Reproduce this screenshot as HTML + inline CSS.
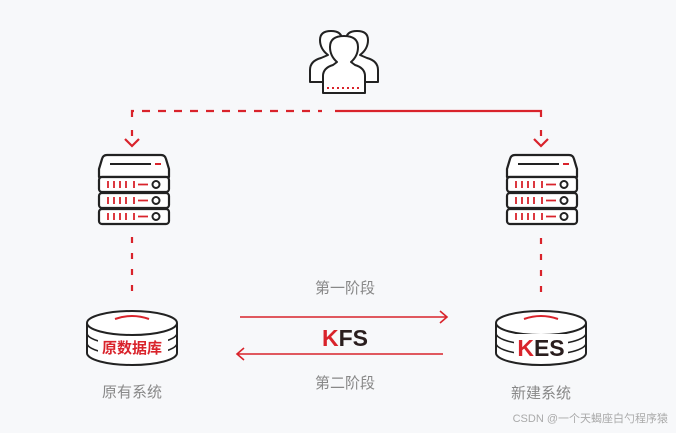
<!DOCTYPE html>
<html><head><meta charset="utf-8"><style>
html,body{margin:0;padding:0;background:#f7f8fa;}
svg{display:block}
text{font-family:"Liberation Sans","Noto Sans CJK SC",sans-serif;}
</style></head><body>
<svg width="676" height="433" viewBox="0 0 676 433" xmlns="http://www.w3.org/2000/svg">
<rect width="676" height="433" fill="#f7f8fa"/>
<defs>
<g id="srv">
 <path d="M8,0 H62 Q66,0 67,4 L70,14 V22 H0 V14 L3,4 Q4,0 8,0Z" fill="#fff" stroke="#222" stroke-width="2.2" stroke-linejoin="round"/>
 <line x1="11" y1="9" x2="52" y2="9" stroke="#222" stroke-width="2"/>
 <line x1="56" y1="9" x2="62" y2="9" stroke="#d9232b" stroke-width="2"/>
 <g fill="#fff" stroke="#222" stroke-width="2.2">
  <rect x="0" y="22" width="70" height="15" rx="3"/>
  <rect x="0" y="38" width="70" height="15" rx="3"/>
  <rect x="0" y="54" width="70" height="15" rx="3"/>
 </g>
 <g stroke="#d9232b" stroke-width="1.8">
  <path d="M9,26v7M15,26v7M21,26v7M27,26v7M35,26v7M39,29.5h10"/>
  <path d="M9,42v7M15,42v7M21,42v7M27,42v7M35,42v7M39,45.5h10"/>
  <path d="M9,58v7M15,58v7M21,58v7M27,58v7M35,58v7M39,61.5h10"/>
 </g>
 <g fill="none" stroke="#222" stroke-width="2">
  <circle cx="57" cy="29.5" r="3.5"/><circle cx="57" cy="45.5" r="3.5"/><circle cx="57" cy="61.5" r="3.5"/>
 </g>
</g>
<g id="db">
 <path d="M0,12 V42 A45,12 0 0 0 90,42 V12" fill="#fff" stroke="#222" stroke-width="2"/>
 <ellipse cx="45" cy="12" rx="45" ry="12" fill="#fff" stroke="#222" stroke-width="2"/>
 <path d="M0,22 A45,12 0 0 0 90,22 M0,32 A45,12 0 0 0 90,32" fill="none" stroke="#222" stroke-width="1.6"/>
 <path d="M28,8 Q45,2 62,8" fill="none" stroke="#d9232b" stroke-width="2"/>
</g>
</defs>

<!-- users icon -->
<g fill="#fff" stroke="#222" stroke-width="2" stroke-linejoin="round">
 <path d="M310,82 V70 Q310,61 321,58 L328,55 Q320,49 320,40 Q320,31 331,31 Q342,31 342,40 V82Z"/>
 <path d="M378,82 V70 Q378,61 367,58 L360,55 Q368,49 368,40 Q368,31 357,31 Q346,31 346,40 V82Z"/>
 <path d="M323,93 V76 Q323,68 333,65 L337,62 Q330,56 330,47 Q330,36 344,36 Q358,36 358,47 Q358,56 351,62 L355,65 Q365,68 365,76 V93Z"/>
</g>
<path d="M327,88h2M332,88h2M337,88h2M342,88h2M347,88h2M352,88h2M357,88h2" stroke="#d9232b" stroke-width="2"/>

<!-- top connectors -->
<g stroke="#d9232b" stroke-width="2.2" fill="none">
 <path d="M132,117 V111 H322" stroke-dasharray="8 8"/>
 <path d="M335,111 H541 V117"/>
 <path d="M132,130 V136 M125,139 L132,146 L139,139"/>
 <path d="M541,130 V136 M534,139 L541,146 L548,139"/>
 <path d="M132,237 V295" stroke-dasharray="6 10"/>
 <path d="M541,238 V295" stroke-dasharray="6 10"/>
</g>

<use href="#srv" x="99" y="155"/>
<use href="#srv" x="507" y="155"/>

<use href="#db" x="87" y="311"/>
<use href="#db" x="496" y="311"/>
<rect x="98" y="337" width="70" height="19" fill="#fff"/>
<rect x="514" y="334" width="54" height="24" fill="#fff"/>
<text x="132" y="353" font-size="15" font-weight="bold" fill="#d9232b" text-anchor="middle">原数据库</text>
<text x="541" y="356" font-size="23" font-weight="bold" fill="#2a1e1e" text-anchor="middle"><tspan fill="#d9232b">K</tspan>ES</text>

<text x="132" y="397" font-size="15" fill="#888" text-anchor="middle">原有系统</text>
<text x="541" y="398" font-size="15" fill="#888" text-anchor="middle">新建系统</text>

<!-- middle arrows -->
<text x="345" y="293" font-size="15" fill="#888" text-anchor="middle">第一阶段</text>
<text x="345" y="388" font-size="15" fill="#888" text-anchor="middle">第二阶段</text>
<g stroke="#d9232b" stroke-width="1.6" fill="none">
 <path d="M240,317 H446 M440,311 L447,317 L440,323"/>
 <path d="M237,354 H443 M244,348 L237,354 L244,360"/>
</g>
<text x="345" y="346" font-size="23" font-weight="bold" fill="#2a1e1e" text-anchor="middle"><tspan fill="#d9232b">K</tspan>FS</text>

<text x="668" y="422" font-size="11" fill="#aaa" text-anchor="end">CSDN @一个天蝎座白勺程序猿</text>
</svg>
</body></html>
